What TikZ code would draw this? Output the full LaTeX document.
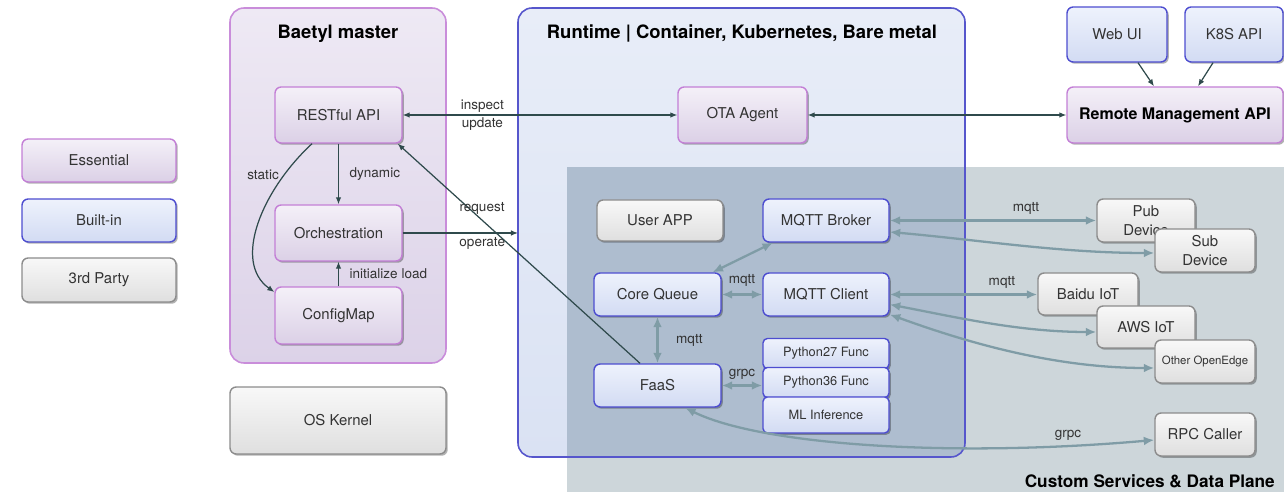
\documentclass[tikz,border=0pt]{standalone}
\usepackage{fontspec}
\setmainfont{TeX Gyre Heros}
\usetikzlibrary{arrows.meta,shadows,calc}

\definecolor{esstop}{HTML}{F4F0F8}
\definecolor{essbot}{HTML}{DBD0E6}
\definecolor{essborder}{HTML}{C37FD6}
\definecolor{bintop}{HTML}{EEF2FC}
\definecolor{binbot}{HTML}{D2DBF3}
\definecolor{binborder}{HTML}{4D4DD0}
\definecolor{thdtop}{HTML}{F8F8F8}
\definecolor{thdbot}{HTML}{DFDFDF}
\definecolor{thdborder}{HTML}{8C8C8C}
\definecolor{mastertop}{HTML}{EEE9F4}
\definecolor{masterbot}{HTML}{DCD2E8}
\definecolor{masterborder}{HTML}{C98DDA}
\definecolor{rttop}{HTML}{E8EDF8}
\definecolor{rtbot}{HTML}{DAE2F3}
\definecolor{rtborder}{HTML}{5656CC}
\definecolor{custgray}{HTML}{CDD6DA}
\definecolor{overlap}{HTML}{AEBDCF}
\definecolor{ctlcol}{HTML}{2F4A4C}
\definecolor{datacol}{HTML}{7F9CA6}
\definecolor{txt}{HTML}{333333}

\tikzset{
  box/.style={draw, rounded corners=3.5pt, line width=0.8pt, inner sep=1pt,
    text=txt, font=\fontsize{8.5}{11}\selectfont,
    drop shadow={shadow xshift=1pt, shadow yshift=-1pt, opacity=0.3, fill=black}},
  essential/.style={box, draw=essborder, top color=esstop, bottom color=essbot},
  builtin/.style={box, draw=binborder, top color=bintop, bottom color=binbot},
  thirdp/.style={box, draw=thdborder, top color=thdtop, bottom color=thdbot},
  small/.style={font=\fontsize{7.3}{9}\selectfont, rounded corners=2.5pt},
  title/.style={font=\bfseries\fontsize{10.5}{12}\selectfont, text=black},
  lbl/.style={font=\fontsize{7.7}{9}\selectfont, text=txt, inner sep=1pt},
  ctl/.style={draw=ctlcol, line width=0.7pt, >={Latex[length=4pt,width=3.2pt]}},
  data/.style={draw=datacol, line width=1.3pt, >={Latex[length=6pt,width=5pt]}, <->},
}

\begin{document}
\begin{tikzpicture}[x=0.02cm, y=-0.02cm]
    \useasboundingbox (0,0) rectangle (1284,492);

    % 背景区域
    \fill[custgray] (567,167) rectangle (1284,492);
    \shade[top color=rttop, bottom color=rtbot, rounded corners=8pt] (518,8) rectangle (965,457);
    \begin{scope}
      \clip[rounded corners=8pt] (518,8) rectangle (965,457);
      \fill[overlap] (567,167) rectangle (1284,492);
    \end{scope}
    \draw[rtborder, rounded corners=8pt, line width=0.9pt] (518,8) rectangle (965,457);
    \draw[masterborder, top color=mastertop, bottom color=masterbot, rounded corners=8pt, line width=0.9pt] (230,8) rectangle (446,363);

    % 图例
    \node[essential, minimum width=3.08cm, minimum height=0.86cm] (ess) at (99,160.5) {Essential};
    \node[builtin, minimum width=3.08cm, minimum height=0.86cm] (bin) at (99,220.5) {Built-in};
    \node[thirdp, minimum width=3.08cm, minimum height=0.88cm] (thd) at (99,280) {3rd Party};

    % Baetyl master
    \node[title] (tmaster) at (338,34) {Baetyl master};
    \node[essential, minimum width=2.54cm, minimum height=1.12cm] (rest) at (338.5,115) {RESTful API};
    \node[essential, minimum width=2.54cm, minimum height=1.12cm] (orch) at (338.5,233) {Orchestration};
    \node[essential, minimum width=2.54cm, minimum height=1.14cm] (cfg) at (338.5,315.5) {ConfigMap};
    \node[thirdp, minimum width=4.32cm, minimum height=1.34cm] (os) at (338,420.5) {OS Kernel};

    % Runtime
    \node[title] (truntime) at (742,33) {Runtime | Container, Kubernetes, Bare metal};
    \node[essential, minimum width=2.58cm, minimum height=1.12cm] (ota) at (742.5,115) {OTA Agent};
    \node[thirdp, minimum width=2.52cm, minimum height=0.82cm] (app) at (660,220.5) {User APP};
    \node[builtin, minimum width=2.52cm, minimum height=0.86cm] (broker) at (826,220.5) {MQTT Broker};
    \node[builtin, minimum width=2.54cm, minimum height=0.86cm] (cq) at (657.5,294.5) {Core Queue};
    \node[builtin, minimum width=2.52cm, minimum height=0.86cm] (mc) at (826,294.5) {MQTT Client};
    \node[builtin, minimum width=2.54cm, minimum height=0.86cm] (faas) at (657.5,385.5) {FaaS};
    \node[builtin, small, minimum width=2.52cm, minimum height=0.6cm] (py27) at (826,353.5) {Python27 Func};
    \node[builtin, small, minimum width=2.52cm, minimum height=0.6cm] (py36) at (826,382.5) {Python36 Func};
    \node[builtin, small, minimum width=2.52cm, minimum height=0.72cm] (ml) at (826,415) {ML Inference};

    % 远程管理
    \node[builtin, minimum width=2cm, minimum height=1.1cm] (webui) at (1117,34.5) {Web UI};
    \node[builtin, minimum width=1.96cm, minimum height=1.1cm] (k8s) at (1234,34.5) {K8S API};
    \node[essential, minimum width=4.32cm, minimum height=1.12cm, font=\bfseries\fontsize{9.1}{11}\selectfont, text=black] (rm) at (1175,115) {Remote Management API};

    % 第三方
    \node[thirdp, align=center, minimum width=1.96cm, minimum height=0.86cm] (pub) at (1146,220.5) {Pub\\Device};
    \node[thirdp, align=center, minimum width=2cm, minimum height=0.86cm] (sub) at (1205,250.5) {Sub\\Device};
    \node[thirdp, minimum width=2cm, minimum height=0.84cm] (baidu) at (1088,294) {Baidu IoT};
    \node[thirdp, minimum width=1.96cm, minimum height=0.84cm] (aws) at (1146,327) {AWS IoT};
    \node[thirdp, minimum width=2cm, minimum height=0.86cm, font=\fontsize{6.5}{8}\selectfont] (other) at (1205,361.5) {Other OpenEdge};
    \node[thirdp, minimum width=2cm, minimum height=0.86cm] (rpc) at (1205,434.5) {RPC Caller};
    \node[title, anchor=east, font=\bfseries\fontsize{9.8}{12}\selectfont] (tcustom) at (1281,481) {Custom Services \& Data Plane};

    % 控制连线
    \draw[ctl, <->] (rest.east) -- (ota.west)
      node[lbl, pos=0.29, above] (linsp) {inspect}
      node[lbl, pos=0.29, below] (lupd) {update};
    \draw[ctl, <->] (ota.east) -- (rm.west);
    \draw[ctl, ->] ([xshift=0.42cm]webui.south) -- ([xshift=-0.42cm]rm.north);
    \draw[ctl, ->] ([xshift=-0.42cm]k8s.south) -- ([xshift=0.46cm]rm.north);
    \draw[ctl, ->] (rest.south) -- (orch.north) node[lbl, midway, right, xshift=5pt] (ldyn) {dynamic};
    \draw[ctl, ->] ([xshift=-0.53cm]rest.south) .. controls (262,190) and (232,262) .. ([yshift=0.47cm]cfg.west);
    \node[lbl] (lstatic) at (263,175) {static};
    \draw[ctl, ->] (cfg.north) -- (orch.south) node[lbl, midway, right, xshift=5pt] (linit) {initialize load};
    \coordinate (rtw) at (518,233);
    \draw[ctl, ->] (orch.east) -- (rtw) node[lbl, pos=0.69, below, yshift=-1pt] (lop) {operate};
    \draw[ctl, ->] ([xshift=-0.35cm]faas.north) -- ([xshift=-0.1cm]rest.south east);
    \node[lbl] (lreq) at (482,208) {request};

    % 数据连线
    \draw[data] ([xshift=-1.06cm]broker.south) -- ([xshift=1.1cm]cq.north);
    \draw[data] (cq.east) -- (mc.west) node[lbl, midway, above, yshift=3pt] (lmq1) {mqtt};
    \draw[data] (cq.south) -- (faas.north) node[lbl, midway, right, xshift=9pt] (lmq2) {mqtt};
    \draw[data] (faas.east) -- (faas.east -| py36.west) node[lbl, midway, above, yshift=2pt] (lgrpc1) {grpc};
    \draw[data] (broker.east) -- (pub.west) node[lbl, pos=0.66, above, yshift=2pt] (lmq3) {mqtt};
    \draw[data] ([yshift=-0.23cm]broker.east) .. controls (980,240) and (1060,253) .. ([yshift=-0.05cm]sub.west);
    \draw[data] (mc.east) -- (mc.east -| baidu.west) node[lbl, pos=0.76, above, yshift=2pt] (lmq4) {mqtt};
    \draw[data] ([yshift=-0.2cm]mc.east) .. controls (960,318) and (1020,332) .. ([yshift=-0.1cm]aws.west);
    \draw[data] ([yshift=-0.4cm]mc.east) .. controls (960,340) and (1050,368) .. ([yshift=-0.13cm]other.west);
    \draw[data] ([xshift=0.55cm]faas.south) .. controls (760,445) and (950,458) .. ([yshift=-0.11cm]rpc.west);
    \node[lbl] (lgrpc2) at (1068,435) {grpc};
\end{tikzpicture}
\end{document}
